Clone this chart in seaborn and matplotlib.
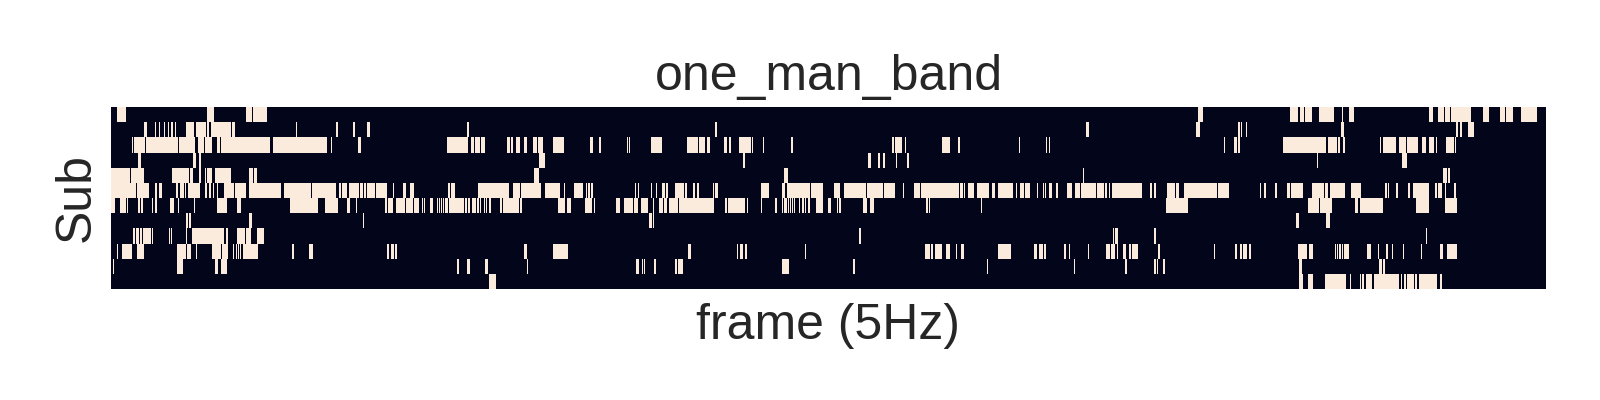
import numpy as np
import pandas as pd
import matplotlib
matplotlib.use('Agg')
import matplotlib.pyplot as plt
import seaborn as sns

# on/off events per subject: (first frame, frame after last)
TITLE = 'one_man_band'
N_FRAMES = 1435

sub_00 = [(6, 15), (96, 103), (135, 141), (142, 156), (1087, 1092), (1179, 1187), (1189, 1193),
          (1194, 1201), (1208, 1223), (1231, 1232), (1238, 1243), (1318, 1322), (1327, 1333),
          (1334, 1339), (1340, 1360), (1372, 1378), (1389, 1394), (1395, 1402), (1410, 1426)]
sub_01 = [(33, 36), (44, 45), (48, 49), (53, 54), (57, 58), (60, 62), (64, 65), (75, 83), (85, 95),
          (96, 98), (100, 120), (121, 124), (185, 186), (225, 227), (242, 244), (256, 259),
          (356, 358), (604, 606), (975, 978), (1085, 1089), (1127, 1129), (1130, 1131),
          (1135, 1136), (1230, 1233), (1345, 1347), (1349, 1351), (1357, 1363)]
sub_02 = [(21, 22), (23, 34), (35, 67), (68, 84), (87, 93), (94, 101), (106, 109), (110, 159),
          (162, 216), (220, 221), (247, 250), (336, 357), (360, 363), (364, 369), (370, 374),
          (396, 399), (400, 402), (405, 409), (413, 416), (422, 426), (427, 432), (442, 453),
          (479, 482), (488, 490), (516, 517), (518, 519), (540, 551), (576, 587), (588, 594),
          (596, 599), (613, 616), (618, 620), (628, 640), (641, 642), (652, 653), (680, 682),
          (781, 783), (784, 791), (794, 795), (831, 839), (847, 849), (908, 909), (935, 936),
          (938, 939), (1113, 1114), (1123, 1126), (1127, 1129), (1172, 1215), (1217, 1226),
          (1227, 1229), (1232, 1234), (1269, 1270), (1272, 1285), (1288, 1295), (1296, 1307),
          (1311, 1315), (1318, 1323), (1325, 1326), (1335, 1343), (1344, 1345)]
sub_03 = [(27, 30), (82, 85), (88, 90), (428, 434), (632, 634), (757, 760), (767, 769), (772, 774),
          (785, 786), (796, 798), (1206, 1207), (1291, 1296)]
sub_04 = [(0, 19), (20, 33), (61, 78), (79, 82), (88, 90), (94, 95), (96, 101), (104, 120),
          (138, 142), (143, 146), (423, 428), (673, 677), (972, 973), (1332, 1336), (1337, 1339)]
sub_05 = [(0, 25), (26, 38), (44, 46), (48, 51), (65, 67), (69, 73), (74, 75), (77, 89), (94, 96),
          (98, 100), (102, 103), (106, 107), (113, 123), (124, 135), (138, 170), (173, 200),
          (201, 225), (228, 230), (231, 236), (238, 248), (249, 252), (253, 255), (256, 264),
          (265, 276), (282, 283), (292, 295), (299, 303), (337, 339), (340, 344), (367, 398),
          (402, 409), (410, 430), (434, 449), (453, 454), (463, 472), (475, 476), (477, 479),
          (480, 482), (524, 525), (527, 528), (540, 541), (545, 546), (551, 554), (555, 557),
          (564, 573), (574, 576), (582, 584), (586, 588), (602, 603), (604, 607), (650, 658),
          (671, 674), (676, 699), (700, 712), (723, 729), (733, 755), (756, 772), (773, 784),
          (792, 793), (803, 809), (810, 848), (849, 852), (853, 854), (857, 863), (866, 878),
          (881, 884), (887, 902), (905, 906), (909, 913), (914, 919), (926, 927), (932, 933),
          (934, 935), (938, 941), (945, 947), (956, 961), (964, 969), (970, 985), (986, 993),
          (994, 996), (998, 999), (1001, 1031), (1039, 1041), (1043, 1045), (1056, 1064),
          (1065, 1068), (1073, 1106), (1107, 1118), (1149, 1150), (1153, 1155), (1164, 1166),
          (1176, 1179), (1180, 1192), (1201, 1213), (1214, 1217), (1219, 1234), (1240, 1250),
          (1274, 1276), (1277, 1278), (1285, 1287), (1297, 1299), (1302, 1318), (1324, 1326),
          (1327, 1331), (1334, 1335), (1343, 1345)]
sub_06 = [(0, 4), (9, 15), (16, 17), (27, 29), (30, 32), (41, 42), (44, 46), (59, 63), (67, 68),
          (83, 84), (106, 116), (126, 130), (179, 207), (214, 227), (236, 239), (245, 246),
          (274, 276), (277, 282), (285, 294), (295, 302), (303, 308), (311, 312), (313, 314),
          (319, 322), (326, 327), (328, 329), (330, 331), (332, 333), (334, 337), (338, 353),
          (354, 356), (357, 359), (361, 365), (366, 368), (369, 370), (373, 374), (375, 376),
          (378, 380), (389, 391), (392, 408), (409, 411), (447, 454), (456, 460), (474, 481),
          (483, 484), (505, 509), (513, 522), (523, 527), (530, 537), (542, 543), (548, 552),
          (553, 556), (558, 567), (568, 603), (614, 616), (617, 634), (636, 637), (650, 651),
          (664, 666), (671, 672), (673, 676), (677, 678), (679, 680), (681, 682), (683, 684),
          (688, 689), (691, 693), (694, 695), (697, 699), (705, 712), (717, 720), (726, 727),
          (728, 730), (752, 756), (759, 763), (815, 817), (818, 819), (870, 871), (1055, 1077),
          (1197, 1208), (1209, 1221), (1244, 1247), (1249, 1272), (1305, 1318), (1334, 1346)]
sub_07 = [(75, 77), (78, 80), (138, 141), (252, 253), (538, 541), (542, 543), (1185, 1188),
          (1215, 1219)]
sub_08 = [(22, 24), (25, 28), (29, 31), (32, 40), (41, 42), (58, 59), (60, 61), (75, 76), (81, 113),
          (115, 117), (126, 134), (135, 140), (146, 153), (748, 750), (1002, 1003), (1004, 1007),
          (1043, 1045), (1315, 1316)]
sub_09 = [(6, 7), (11, 21), (26, 33), (66, 75), (76, 80), (85, 86), (101, 110), (111, 117),
          (122, 123), (125, 126), (127, 128), (129, 130), (132, 147), (181, 183), (198, 202),
          (276, 278), (280, 283), (284, 286), (413, 416), (442, 457), (577, 580), (626, 627),
          (629, 632), (634, 636), (694, 695), (814, 819), (820, 822), (824, 831), (835, 839),
          (845, 846), (850, 853), (887, 900), (923, 926), (928, 932), (933, 935), (953, 955),
          (958, 959), (977, 978), (995, 999), (1000, 1004), (1006, 1007), (1012, 1015),
          (1018, 1020), (1021, 1027), (1047, 1049), (1103, 1104), (1124, 1126), (1129, 1131),
          (1132, 1136), (1138, 1140), (1187, 1196), (1198, 1202), (1224, 1225), (1226, 1227),
          (1228, 1230), (1231, 1232), (1233, 1238), (1256, 1260), (1267, 1268), (1275, 1277),
          (1281, 1282), (1292, 1293), (1310, 1311), (1329, 1332), (1336, 1346)]
sub_10 = [(2, 3), (66, 72), (104, 107), (110, 116), (346, 348), (356, 359), (374, 377), (416, 417),
          (525, 528), (531, 532), (533, 534), (543, 545), (564, 566), (567, 572), (671, 678),
          (742, 744), (876, 877), (963, 964), (1014, 1016), (1043, 1045), (1046, 1047),
          (1052, 1054), (1188, 1191), (1268, 1271), (1272, 1274)]
sub_11 = [(378, 385), (1188, 1192), (1197, 1202), (1214, 1235), (1239, 1240), (1249, 1250),
          (1251, 1253), (1255, 1261), (1263, 1288), (1290, 1291), (1293, 1295), (1296, 1303),
          (1304, 1306), (1308, 1326), (1329, 1331)]

subjects = [sub_00, sub_01, sub_02, sub_03, sub_04, sub_05,
            sub_06, sub_07, sub_08, sub_09, sub_10, sub_11]

# build the subject x frame table
table = np.zeros((len(subjects), N_FRAMES))
for i, events in enumerate(subjects):
    for start, stop in events:
        table[i, start:stop] = 1
df = pd.DataFrame(table)

sns.set_style("whitegrid")
plt.rcParams['font.family'] = ['Liberation Sans', 'DejaVu Sans']

fig = plt.figure(figsize=(16, 4), dpi=100)
ax = fig.add_axes([111 / 1600, 1 - 289 / 400, 1435 / 1600, 182 / 400])
sns.heatmap(df, ax=ax, cbar=False, vmin=0, vmax=1, xticklabels=False, yticklabels=False)

ax.set_title(TITLE, fontsize=36, pad=12)
ax.set_xlabel('frame (5Hz)', fontsize=36, labelpad=10)
ax.set_ylabel('Sub', fontsize=36, labelpad=8)

fig.savefig('out.png', dpi=100)
